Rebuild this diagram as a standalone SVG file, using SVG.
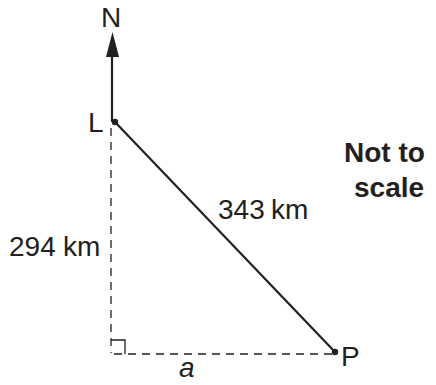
<svg xmlns="http://www.w3.org/2000/svg" width="436" height="385" viewBox="0 0 436 385">
<style>
text{font-family:"Liberation Sans",Arial,sans-serif;font-size:28px;fill:#231f20}
.b{font-weight:bold}
.solid{stroke:#231f20;stroke-width:2.2;fill:none}
.dash{stroke:#231f20;stroke-width:1.3;fill:none;stroke-dasharray:8,6}
</style>
<rect width="436" height="385" fill="#fff"/>
<g id="connectors">
<line class="solid" x1="112" y1="122" x2="112" y2="55"/>
<polygon points="112.5,32 106,57 119,57" fill="#231f20"/>
<line class="solid" x1="115" y1="122" x2="335" y2="352"/>
<line class="dash" x1="111" y1="128" x2="111" y2="353"/>
<line class="dash" x1="114" y1="354" x2="334" y2="354"/>
<polyline points="111,340 125,340 125,354" fill="none" stroke="#231f20" stroke-width="1.3"/>
</g>
<g id="L"><circle cx="115" cy="122" r="3.2" fill="#231f20"/><text x="88" y="132">L</text></g>
<g id="P"><circle cx="335" cy="352" r="3.2" fill="#231f20"/><text x="341" y="366">P</text></g>
<g id="N"><text x="111" y="27" text-anchor="middle">N</text></g>
<text x="218" y="219">343<tspan x="271">km</tspan></text>
<text x="9" y="256">294<tspan x="63">km</tspan></text>
<text x="179" y="377" font-style="italic">a</text>
<text class="b" x="344" y="162">Not to</text>
<text class="b" x="354" y="197">scale</text>
</svg>
